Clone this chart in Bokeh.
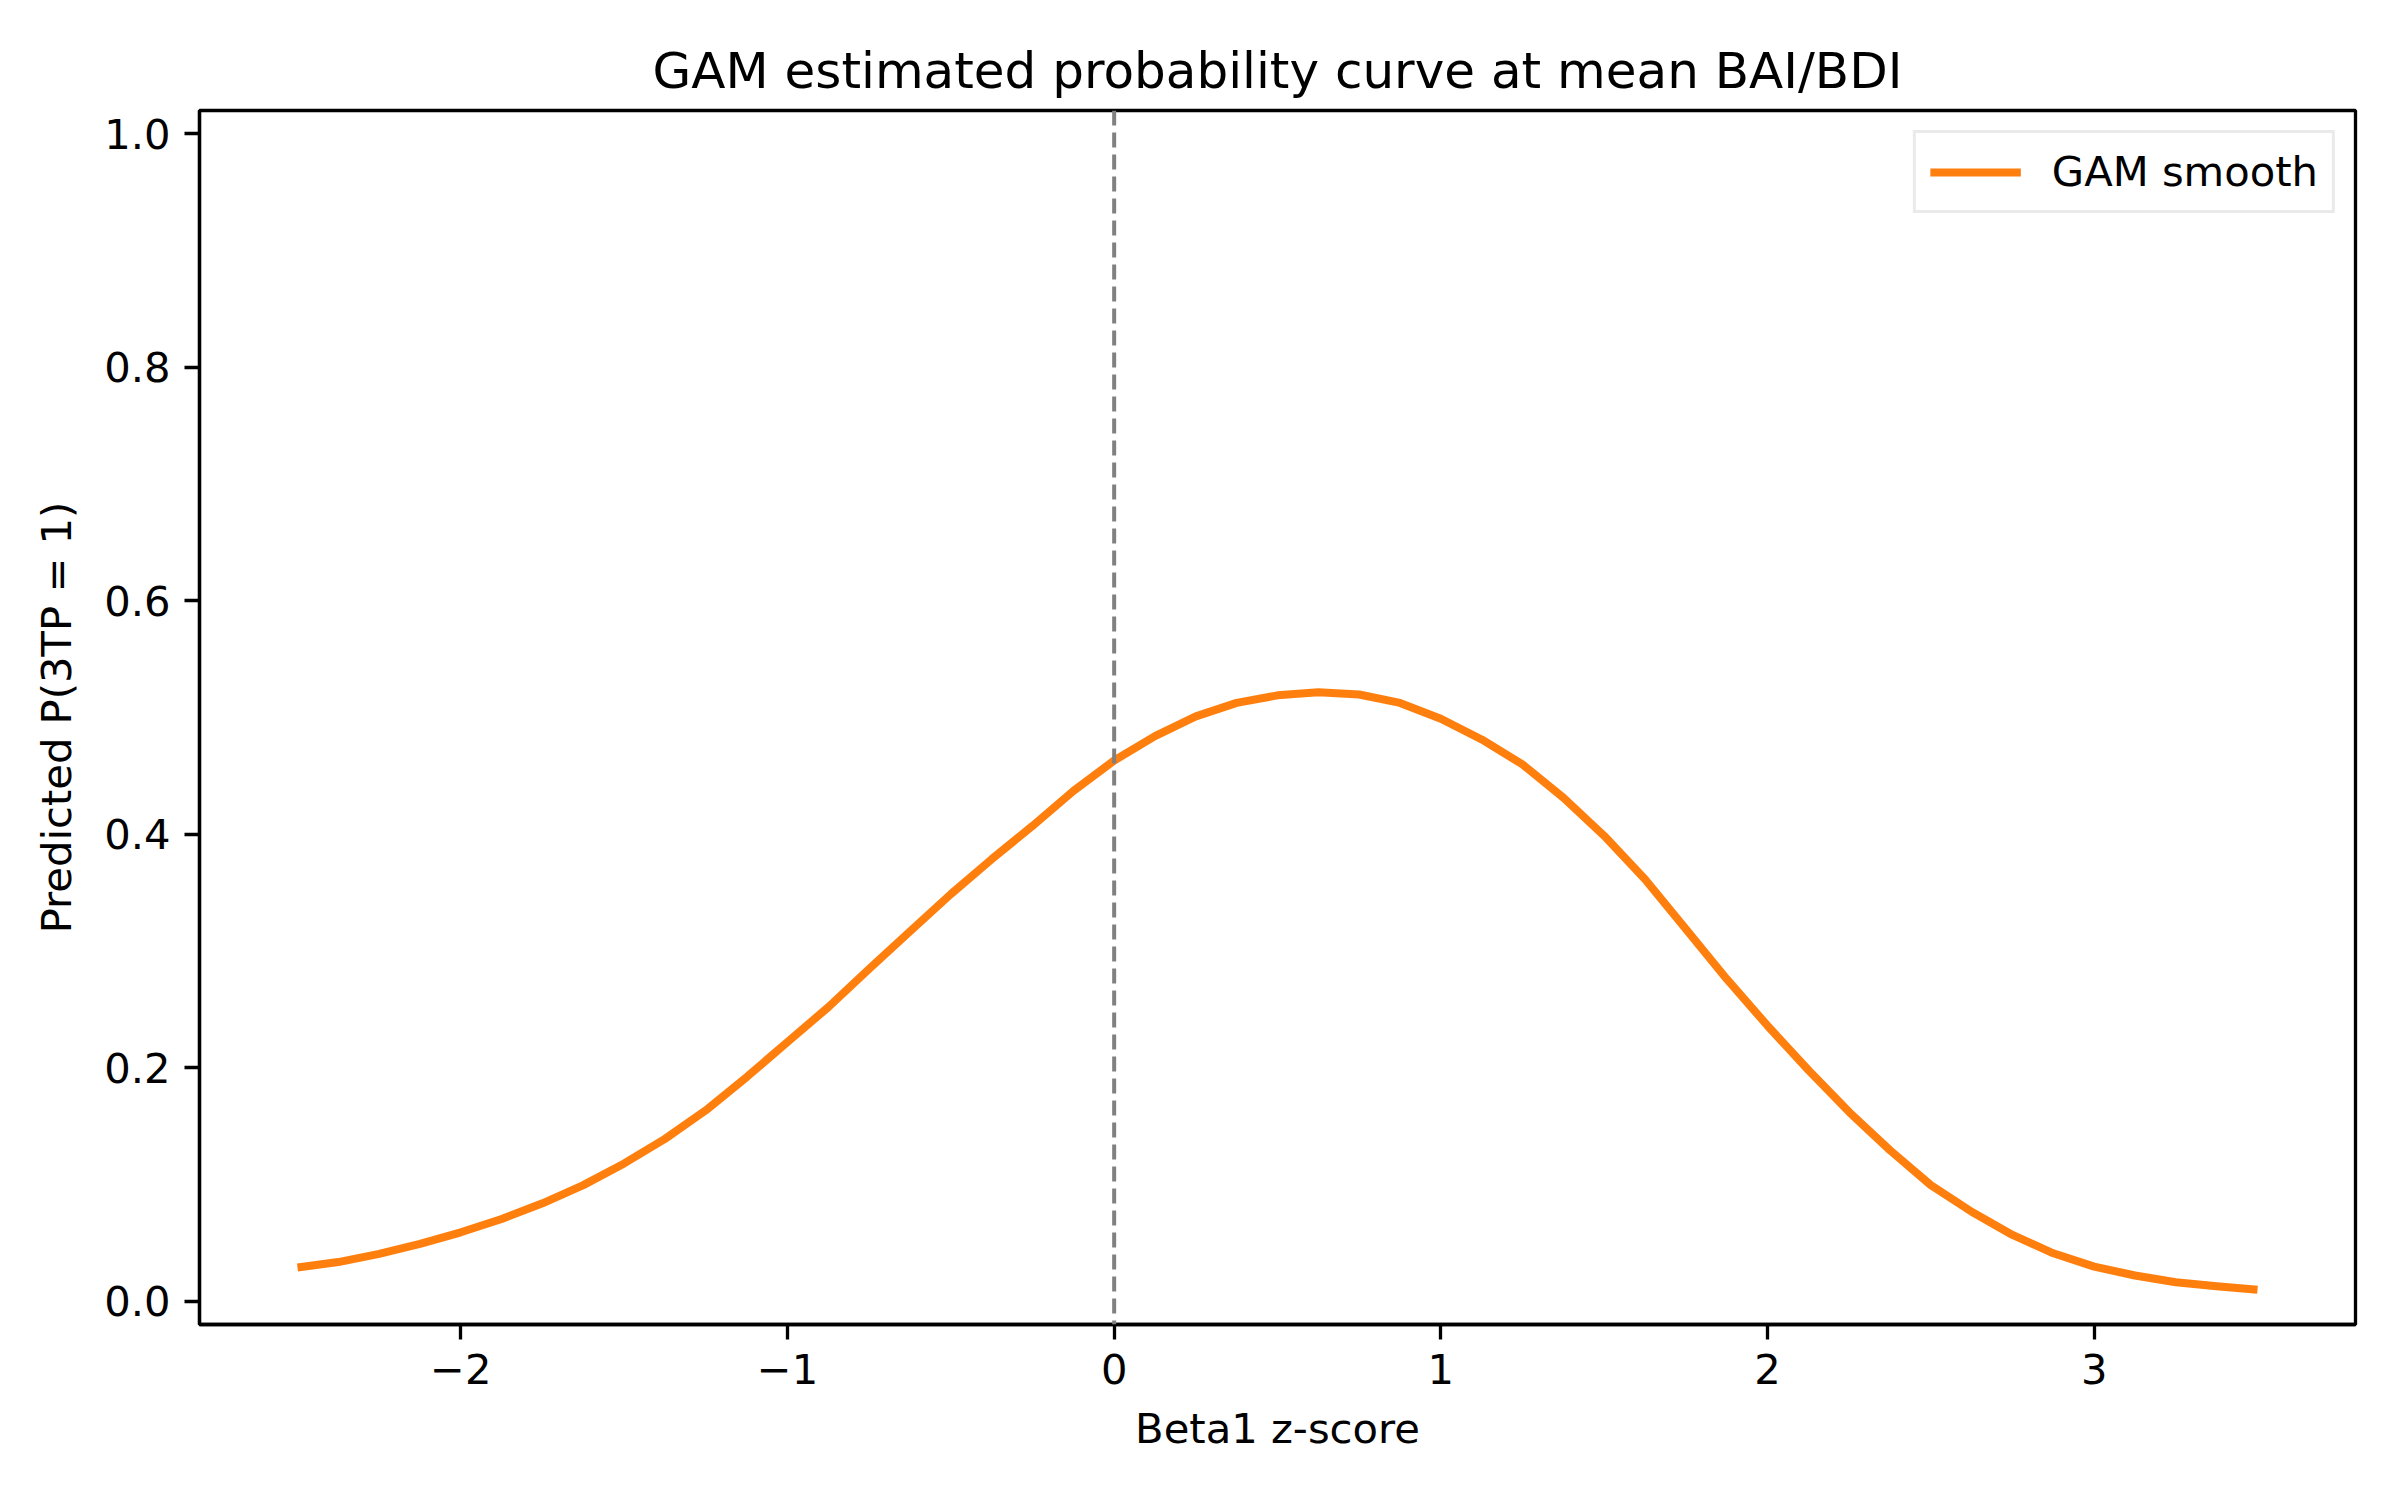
from bokeh.plotting import figure
from bokeh.models import Span, Range1d, FixedTicker, Legend, LegendItem
from bokeh.embed import file_html
from bokeh.resources import INLINE

# Data
beta1_z = [-2.5, -2.375, -2.25, -2.125, -2.0, -1.875, -1.75, -1.625, -1.5, -1.375,
           -1.25, -1.125, -1.0, -0.875, -0.75, -0.625, -0.5, -0.375, -0.25, -0.125,
           0.0, 0.125, 0.25, 0.375, 0.5, 0.625, 0.75, 0.875, 1.0, 1.125,
           1.25, 1.375, 1.5, 1.625, 1.75, 1.875, 2.0, 2.125, 2.25, 2.375,
           2.5, 2.625, 2.75, 2.875, 3.0, 3.125, 3.25, 3.375, 3.5]
p_3tp = [0.0288, 0.0335, 0.0405, 0.0490, 0.0590, 0.0704, 0.0838, 0.0994, 0.1180, 0.1390,
         0.1635, 0.1920, 0.2220, 0.2519, 0.2846, 0.3168, 0.3487, 0.3786, 0.4071, 0.4370,
         0.4632, 0.4840, 0.5010, 0.5125, 0.5190, 0.5217, 0.5197, 0.5125, 0.4989, 0.4812,
         0.4598, 0.4313, 0.3986, 0.3615, 0.3188, 0.2760, 0.2360, 0.1980, 0.1620, 0.1293,
         0.0994, 0.0766, 0.0567, 0.0410, 0.0296, 0.0220, 0.0162, 0.0128, 0.0097]
x_ticks = [-2, -1, 0, 1, 2, 3]
y_ticks = [0.0, 0.2, 0.4, 0.6, 0.8, 1.0]
vline_x = 0.0

FONT = "DejaVu Sans"
TICK_PX = "41.7px"

p = figure(width=2384, height=1484, output_backend="svg", toolbar_location=None,
           x_range=Range1d(-2.8, 3.8), y_range=Range1d(-0.02, 1.02),
           min_border_left=199, min_border_right=29, min_border_top=110,
           min_border_bottom=160,
           title="GAM estimated probability curve at mean BAI/BDI")

p.background_fill_color = "white"
p.border_fill_color = "white"
p.xgrid.visible = False
p.ygrid.visible = False
p.outline_line_color = "black"
p.outline_line_width = 3.3

p.title.text_font = FONT
p.title.text_font_size = "50px"
p.title.text_font_style = "normal"
p.title.text_color = "black"
p.title.align = "center"
p.title.standoff = 22

line = p.line(beta1_z, p_3tp, line_color="#ff7f0e", line_width=8,
              line_join="round")

span = Span(location=vline_x, dimension="height", line_color="#808080",
            line_width=4, line_dash="15 7")
p.add_layout(span)

for ax in (p.xaxis[0], p.yaxis[0]):
    ax.axis_line_width = 3.3
    ax.axis_line_color = "black"
    ax.major_tick_line_width = 3.3
    ax.major_tick_line_color = "black"
    ax.major_tick_out = 15
    ax.major_tick_in = 0
    ax.minor_tick_line_color = None
    ax.major_label_text_font = FONT
    ax.major_label_text_font_size = TICK_PX
    ax.major_label_text_color = "black"
    ax.axis_label_text_font = FONT
    ax.axis_label_text_font_size = TICK_PX
    ax.axis_label_text_font_style = "normal"
    ax.axis_label_text_color = "black"
    ax.major_label_standoff = 14

p.xaxis[0].ticker = FixedTicker(ticks=x_ticks)
p.yaxis[0].ticker = FixedTicker(ticks=y_ticks)
p.xaxis[0].major_label_overrides = {t: ("\u2212" + str(abs(t)) if t < 0 else str(t)) for t in x_ticks}
p.yaxis[0].major_label_overrides = {t: f"{t:.1f}" for t in y_ticks}
p.xaxis[0].axis_label = "Beta1 z-score"
p.yaxis[0].axis_label = "Predicted P(3TP = 1)"
p.xaxis[0].axis_label_standoff = 17
p.yaxis[0].axis_label_standoff = 20

legend = Legend(items=[LegendItem(label="GAM smooth", renderers=[line])],
                location="top_right", margin=20, padding=14,
                glyph_width=91, glyph_height=36, label_height=36,
                label_standoff=31, spacing=0,
                label_text_font=FONT, label_text_font_size=TICK_PX,
                label_text_color="black",
                border_line_color="#d6d6d6", border_line_width=3.5,
                background_fill_alpha=0.8)
p.add_layout(legend)

open("out.html", "w").write(file_html(p, INLINE))
